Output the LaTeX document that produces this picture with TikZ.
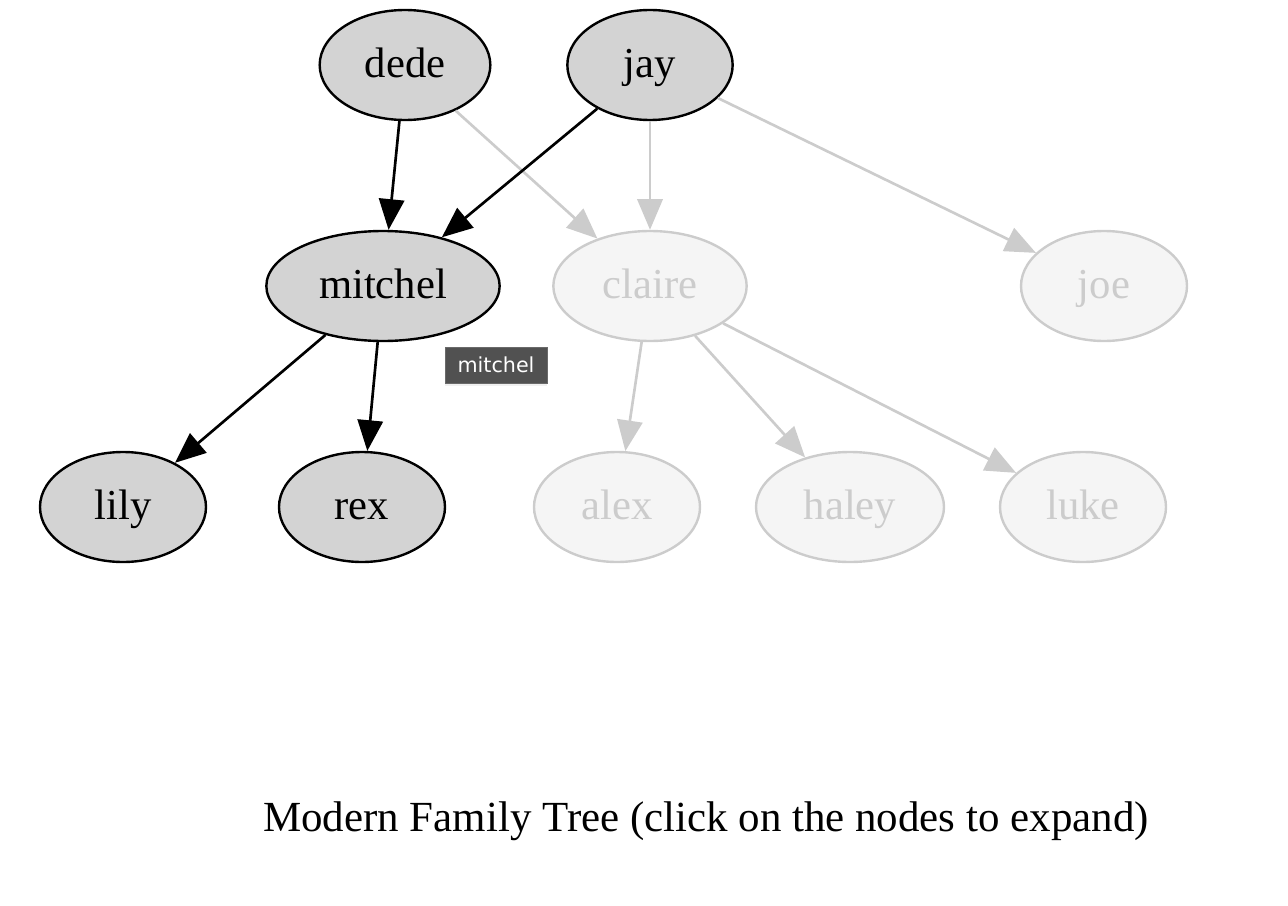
\documentclass[tikz,border=0pt]{standalone}
\usepackage{fontspec}
\setmainfont{Liberation Serif}
\newfontfamily\tipfont{DejaVu Sans}
\usetikzlibrary{arrows.meta,shapes.geometric,shadows}
\definecolor{lgrey}{HTML}{D3D3D3}
\definecolor{fadefill}{HTML}{F5F5F5}
\definecolor{fadeline}{HTML}{CCCCCC}
\definecolor{tipfill}{HTML}{515151}
\definecolor{tipline}{HTML}{6A6A6A}
\begin{document}
\begin{tikzpicture}[x=0.75pt,y=-0.75pt,
  base/.style={ellipse,inner sep=0pt,minimum height=82.5pt,line width=1.8pt,
     font=\fontsize{32}{38}\selectfont,text height=22pt,text depth=3pt},
  active/.style={base,draw=black,fill=lgrey,text=black},
  faded/.style={base,draw=fadeline,fill=fadefill,text=fadeline},
  darrow/.style={line width=2pt,draw=black,-{Triangle[length=23pt,width=19pt]}},
  farrow/.style={line width=2pt,draw=fadeline,-{Triangle[length=23pt,width=19pt]}},
  tip/.style={fill=tipfill,draw=tipline,line width=0.6pt,text=white,
     font=\tipfont\fontsize{15.5}{18}\selectfont,minimum width=76.5pt,minimum height=27pt,
     inner sep=0pt,drop shadow={opacity=0.12,shadow xshift=0pt,shadow yshift=-2pt}},
  caption/.style={font=\fontsize{32.2}{38}\selectfont,anchor=base}]
\useasboundingbox (0,0) rectangle (1288,906);
\node[active,minimum width=128pt] (dede) at (405,65) {dede};
\node[active,minimum width=124pt] (jay) at (650,65) {jay};
\node[active,minimum width=175pt] (mitchel) at (383,286) {mitchel};
\node[faded,minimum width=145pt] (claire) at (650,286) {claire};
\node[faded,minimum width=124.5pt] (joe) at (1104,286) {joe};
\node[active,minimum width=124.5pt] (lily) at (123,507) {lily};
\node[active,minimum width=124.5pt] (rex) at (362,507) {rex};
\node[faded,minimum width=124.5pt] (alex) at (617,507) {alex};
\node[faded,minimum width=141pt] (haley) at (850,507) {haley};
\node[faded,minimum width=124.5pt] (luke) at (1083,507) {luke};
% faded edges
\draw[farrow] (dede) -- (claire);
\draw[farrow] (jay) -- (claire);
\draw[farrow] (jay) -- (joe);
\draw[farrow] (claire) -- (alex);
\draw[farrow] (claire) -- (haley);
\draw[farrow] (claire) -- (luke);
% active edges
\draw[darrow] (dede) -- (mitchel);
\draw[darrow] (jay) -- (mitchel);
\draw[darrow] (mitchel) -- (lily);
\draw[darrow] (mitchel) -- (rex);
% tooltip
\node[tip] (tooltip) at (496,365) {mitchel};
% caption
\node[caption] (title) at (706,831) {Modern Family Tree (click on the nodes to expand)};
\end{tikzpicture}
\end{document}
